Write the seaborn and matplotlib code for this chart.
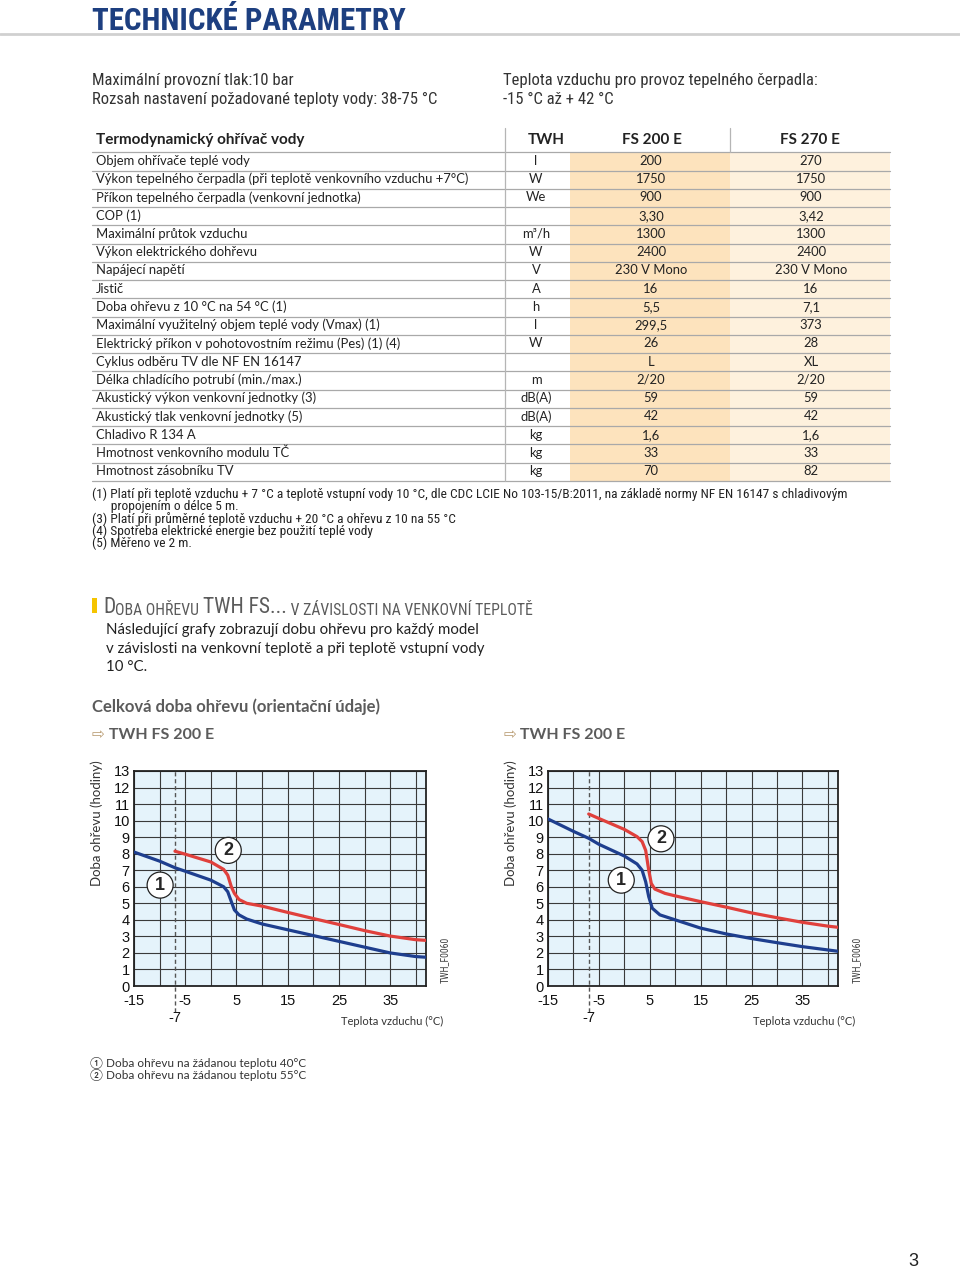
import matplotlib
matplotlib.use("Agg")
import matplotlib.pyplot as plt
import seaborn as sns
import pandas as pd

# ---- data ----
row_labels = [
    "Objem ohřívače teplé vody",
    "Výkon tepelného čerpadla (při teplotě venkovního vzduchu +7°C)",
    "Příkon tepelného čerpadla (venkovní jednotka)",
    "COP (1)",
    "Maximální průtok vzduchu",
    "Výkon elektrického dohřevu",
    "Napájecí napětí",
    "Jistič",
    "Doba ohřevu z 10 °C na 54 °C (1)",
    "Maximální využitelný objem teplé vody (Vmax) (1)",
    "Elektrický příkon v pohotovostním režimu (Pes) (1) (4)",
    "Cyklus odběru TV dle NF EN 16147",
    "Délka chladícího potrubí (min./max.)",
    "Akustický výkon venkovní jednotky (3)",
    "Akustický tlak venkovní jednotky (5)",
    "Chladivo R 134 A",
    "Hmotnost venkovního modulu TČ",
    "Hmotnost zásobníku TV",
]
row_units = ["l", "W", "We", "", "m³/h", "W", "V", "A", "h", "l", "W", "",
             "m", "dB(A)", "dB(A)", "kg", "kg", "kg"]
fs200_vals = ["200", "1750", "900", "3,30", "1300", "2400", "230 V Mono", "16", "5,5",
              "299,5", "26", "L", "2/20", "59", "42", "1,6", "33", "70"]
fs270_vals = ["270", "1750", "900", "3,42", "1300", "2400", "230 V Mono", "16", "7,1",
              "373", "28", "XL", "2/20", "59", "42", "1,6", "33", "82"]

footnotes = [
    "(1) Platí při teplotě vzduchu + 7 °C a teplotě vstupní vody 10 °C, dle CDC LCIE No 103-15/B:2011, na základě normy NF EN 16147 s chladivovým",
    "      propojením o délce 5 m.",
    "(3) Platí při průměrné teplotě vzduchu + 20 °C a ohřevu z 10 na 55 °C",
    "(4) Spotřeba elektrické energie bez použití teplé vody",
    "(5) Měřeno ve 2 m.",
]

# chart 1: TWH FS 200 E (left)
c1_t1 = [-15, -10, -7, -5, 0, 2.5, 3.3, 4, 4.6, 5.5, 7, 10, 15, 20, 25, 30, 35, 40, 42]
c1_h1 = [8.1, 7.55, 7.15, 6.94, 6.4, 6.0, 5.7, 5.1, 4.6, 4.3, 4.05, 3.75, 3.4, 3.05, 2.7, 2.35, 2.0, 1.78, 1.74]
c1_t2 = [-7, -5, 0, 2.5, 3.3, 4, 4.6, 5.5, 7, 10, 15, 20, 25, 30, 35, 40, 42]
c1_h2 = [8.15, 7.97, 7.5, 7.05, 6.7, 6.0, 5.6, 5.23, 5.0, 4.83, 4.45, 4.08, 3.72, 3.35, 3.02, 2.8, 2.76]

# chart 2: TWH FS 200 E (right, as labelled in the reference)
c2_t1 = [-15, -10, -7, -5, 0, 2.5, 3.5, 4.2, 4.8, 5.5, 7, 10, 15, 20, 25, 30, 35, 40, 42]
c2_h1 = [10.1, 9.35, 8.93, 8.57, 7.86, 7.38, 7.0, 6.3, 5.4, 4.7, 4.3, 4.0, 3.5, 3.15, 2.87, 2.62, 2.38, 2.18, 2.1]
c2_t2 = [-7, -5, 0, 2.5, 3.5, 4.2, 4.8, 5.3, 6, 8, 10, 15, 20, 25, 30, 35, 40, 42]
c2_h2 = [10.4, 10.13, 9.47, 9.03, 8.73, 8.2, 7.0, 6.2, 5.86, 5.6, 5.45, 5.1, 4.77, 4.42, 4.13, 3.85, 3.62, 3.55]

y_ticks = list(range(0, 14))
x_grid = list(range(-15, 45, 5))
x_labelled = [-15, -5, 5, 15, 25, 35]

NARROW = ["Roboto Condensed", "Lato"]
BODY = ["Lato", "DejaVu Sans"]
ARIAL = ["Liberation Sans", "DejaVu Sans"]
SYM = ["DejaVu Sans", "Noto Sans CJK SC"]

sns.set_theme(style="white")
plt.rcParams["font.family"] = BODY

fig = plt.figure(figsize=(9.6, 12.7), dpi=100)
bg = fig.add_axes([0, 0, 1, 1])
bg.set_xlim(0, 960)
bg.set_ylim(1270, 0)
bg.axis("off")

# ---- header ----
bg.text(92, 21, "TECHNICKÉ PARAMETRY", family=NARROW, weight="bold", size=22.3,
        color="#1d3f80", va="center")
bg.plot([0, 960], [34, 34], color="#d0d0d0", lw=2)

top_kw = dict(family=NARROW, size=12, color="#333", va="center")
bg.text(92, 80, "Maximální provozní tlak:10 bar", **top_kw)
bg.text(92, 99, "Rozsah nastavení požadované teploty vody: 38-75 °C", **top_kw)
bg.text(503, 80, "Teplota vzduchu pro provoz tepelného čerpadla:", **top_kw)
bg.text(503, 99, "-15 °C až + 42 °C", **top_kw)

# ---- table ----
top_line = 152.3
row_h = 18.25
n = len(row_labels)
bottom_line = top_line + n * row_h
bg.add_patch(plt.Rectangle((570, top_line), 160, n * row_h, color="#fde3bd", lw=0))
bg.add_patch(plt.Rectangle((730, top_line), 160, n * row_h, color="#fef1dd", lw=0))
for i in range(n + 1):
    y = top_line + i * row_h
    bg.plot([92, 890], [y, y], color="#a9a9a9", lw=0.9)
bg.plot([505, 505], [128, bottom_line], color="#b5b5b5", lw=0.9)
bg.plot([730, 730], [128, top_line], color="#b5b5b5", lw=0.9)

hdr_y = 140
bg.text(96, hdr_y, "Termodynamický ohřívač vody", weight="bold", size=11, color="#222", va="center")
bg.text(546, hdr_y, "TWH", weight="bold", size=11, color="#222", va="center", ha="center")
bg.text(652, hdr_y, "FS 200 E", weight="bold", size=11, color="#222", va="center", ha="center")
bg.text(810, hdr_y, "FS 270 E", weight="bold", size=11, color="#222", va="center", ha="center")
for i in range(n):
    yc = top_line + (i + 0.5) * row_h - 0.5
    bg.text(96, yc, row_labels[i], size=9.4, color="#222", va="center")
    bg.text(536, yc, row_units[i], size=9.4, color="#222", va="center", ha="center")
    bg.text(651, yc, fs200_vals[i], size=9.4, color="#222", va="center", ha="center")
    bg.text(811, yc, fs270_vals[i], size=9.4, color="#222", va="center", ha="center")

for k, line in enumerate(footnotes):
    bg.text(92, 494 + k * 12.4, line, family=NARROW, size=9.6, color="#222", va="center")

# ---- section heading in small caps ----
bg.add_patch(plt.Rectangle((92, 598), 4.5, 15, color="#f5c400", lw=0))
pieces = [("D", 15.5), ("OBA OHŘEVU ", 11.3), ("TWH FS...", 15.5), (" V ZÁVISLOSTI NA VENKOVNÍ TEPLOTĚ", 11.3)]
prev = None
for txt, sz in pieces:
    if prev is None:
        prev = bg.text(103, 613, txt, family=NARROW, size=sz, color="#5b5b5b", va="baseline")
    else:
        prev = bg.annotate(txt, xy=(1, 0), xycoords=prev, family=NARROW, size=sz,
                           color="#5b5b5b", va="bottom", ha="left")

para = ["Následující grafy zobrazují dobu ohřevu pro každý model",
        "v závislosti na venkovní teplotě a při teplotě vstupní vody",
        "10 °C."]
for k, line in enumerate(para):
    bg.text(106, 630 + k * 18.5, line, size=10.8, color="#222", va="center")

bg.text(92, 707, "Celková doba ohřevu (orientační údaje)", weight="bold", size=12, color="#5b5b5b", va="center")
for x0 in (92, 503):
    a = bg.text(x0, 735, "⇨", family=SYM, size=11, color="#b89a70", va="center")
    bg.annotate(" TWH FS 200 E", xy=(1, 0.5), xycoords=a, weight="bold", size=11.5,
                color="#5b5b5b", va="center", ha="left")

# ---- charts ----
def draw_chart(left, right, t1, h1, t2, h2, m1, m2):
    ax = fig.add_axes([left / 960, 1 - 986 / 1270, (right - left) / 960, 215 / 1270])
    ax.set_facecolor("#e5f3fb")
    d1 = pd.DataFrame({"t": t1, "h": h1})
    d2 = pd.DataFrame({"t": t2, "h": h2})
    sns.lineplot(data=d1, x="t", y="h", ax=ax, color="#1e3e8e", lw=2.3, zorder=4)
    sns.lineplot(data=d2, x="t", y="h", ax=ax, color="#e0403c", lw=2.3, zorder=4)
    ax.set_xlim(-15, 42)
    ax.set_ylim(0, 13)
    ax.set_yticks(y_ticks)
    ax.set_yticklabels([str(v) for v in y_ticks], family=ARIAL, size=10.5, color="#111")
    ax.set_xticks(x_grid)
    ax.set_xticklabels([str(v) if v in x_labelled else "" for v in x_grid],
                       family=ARIAL, size=10.5, color="#111")
    ax.tick_params(axis="y", length=0, pad=3)
    ax.tick_params(axis="x", length=0, pad=6)
    ax.grid(True, color="#3a3a3a", lw=0.8)
    for s in ax.spines.values():
        s.set_color("#222")
        s.set_linewidth(1.3)
    ax.axvline(-7, ymin=-0.12, ymax=1, color="#555", lw=1, ls=(0, (3, 2)), clip_on=False, zorder=3)
    ax.text(-7, -0.15, "-7", transform=ax.get_xaxis_transform(), family=ARIAL, size=10.5,
            ha="center", va="center", color="#111")
    ax.set_xlabel("")
    ax.set_ylabel("")
    for (mx, my), lab in zip((m1, m2), ("1", "2")):
        ax.text(mx, my, lab, family=ARIAL, weight="bold", size=13, ha="center", va="center", zorder=6,
                bbox=dict(boxstyle="circle,pad=0.25", fc="white", ec="#222", lw=0.9))
    bg.text(left - 37, 760, "Doba ohřevu (hodiny)", size=9.5, rotation=90, color="#333",
            ha="center", va="top")
    bg.text(right + 17, 1021, "Teplota vzduchu (°C)", size=8, color="#333", ha="right", va="center")
    bg.text(right + 19, 960, "TWH_F0060", family=NARROW, size=7, rotation=90, color="#444",
            ha="center", va="center")
    return ax

draw_chart(134, 426, c1_t1, c1_h1, c1_t2, c1_h2, (-9.9, 6.1), (3.4, 8.2))
draw_chart(548, 838, c2_t1, c2_h1, c2_t2, c2_h2, (-0.6, 6.4), (7.2, 8.9))

leg_font = BODY + ["Noto Sans CJK SC"]
bg.text(90, 1063, "① Doba ohřevu na žádanou teplotu 40°C", family=leg_font, size=8.5, color="#333", va="center")
bg.text(90, 1075, "② Doba ohřevu na žádanou teplotu 55°C", family=leg_font, size=8.5, color="#333", va="center")

bg.text(913, 1262, "3", family=ARIAL, size=13, color="#222", ha="center", va="center")

fig.savefig("out.png", dpi=100)
